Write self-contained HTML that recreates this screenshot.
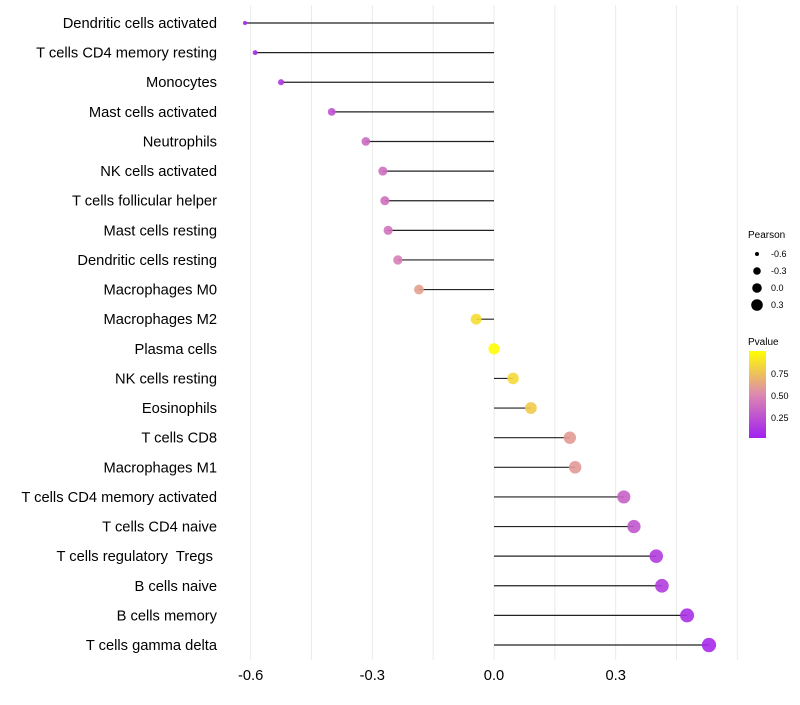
<!DOCTYPE html>
<html><head><meta charset="utf-8"><style>
body{margin:0;background:#fff;font-family:"Liberation Sans",sans-serif}
text{white-space:pre}
</style></head><body>
<svg id="chart" width="800" height="700" xmlns="http://www.w3.org/2000/svg">
<defs><linearGradient id="pg" x1="0" y1="1" x2="0" y2="0">
<stop offset="0" stop-color="#A020F0"/><stop offset="0.5" stop-color="#DD88B0"/><stop offset="1" stop-color="#FFFF00"/>
</linearGradient></defs>
<g id="grid"></g><g id="marks"></g><g id="labels"></g>
<g font-size="9" fill="#000">
<text x="748" y="238" font-size="10">Pearson</text>
<circle cx="757" cy="254" r="2"/><text x="771" y="257">-0.6</text>
<circle cx="757" cy="271" r="3.8"/><text x="771" y="274">-0.3</text>
<circle cx="757" cy="288" r="4.8"/><text x="771" y="291">0.0</text>
<circle cx="757" cy="305" r="5.8"/><text x="771" y="308">0.3</text>
<text x="748" y="345" font-size="10">Pvalue</text>
<rect x="749" y="351" width="17" height="87" fill="url(#pg)"/>
<text x="771" y="377">0.75</text><text x="771" y="399">0.50</text><text x="771" y="421">0.25</text>
</g>
</svg>
<script>
const categories=["Dendritic cells activated","T cells CD4 memory resting","Monocytes","Mast cells activated","Neutrophils","NK cells activated","T cells follicular helper","Mast cells resting","Dendritic cells resting","Macrophages M0","Macrophages M2","Plasma cells","NK cells resting","Eosinophils","T cells CD8","Macrophages M1","T cells CD4 memory activated","T cells CD4 naive","T cells regulatory  Tregs ","B cells naive","B cells memory","T cells gamma delta"];
const pearson=[-0.614,-0.589,-0.525,-0.40,-0.316,-0.274,-0.269,-0.261,-0.237,-0.185,-0.044,0.0,0.047,0.091,0.187,0.20,0.32,0.345,0.40,0.414,0.476,0.53];
const pvalue=[0.04,0.06,0.12,0.25,0.35,0.38,0.38,0.4,0.45,0.6,0.86,0.99,0.84,0.78,0.58,0.57,0.32,0.27,0.14,0.14,0.08,0.05];
const xticks=[-0.6,-0.3,0.0,0.3];
const xtickLabels=["-0.6","-0.3","0.0","0.3"];
const ns="http://www.w3.org/2000/svg";
const X=v=>494+v*405.6;
const Y=i=>23+i*29.62;
const R=v=>1.2+5.5*Math.sqrt(Math.max(0,v+0.64));
function lerp(a,b,t){return a.map((x,k)=>Math.round(x+(b[k]-x)*t));}
function col(p){const lo=[160,32,240],mid=[221,136,176],hi=[255,255,0];
 const c=p<0.5?lerp(lo,mid,p/0.5):lerp(mid,hi,(p-0.5)/0.5);return `rgb(${c})`;}
function mk(tag,attrs,parent){const e=document.createElementNS(ns,tag);for(const k in attrs)e.setAttribute(k,attrs[k]);document.getElementById(parent).appendChild(e);return e;}
for(let v=-0.6;v<=0.61;v+=0.15){const g=mk('line',{x1:X(v),x2:X(v),y1:5,y2:660,stroke:'#ebebeb','stroke-width':1},'grid');

}
xticks.forEach((t,i)=>{const e=mk('text',{x:X(t),y:680,'text-anchor':'middle','font-size':14.7,fill:'#000'},'labels');e.textContent=xtickLabels[i];

});
categories.forEach((c,i)=>{
 const t=mk('text',{x:217,y:Y(i)+5,'text-anchor':'end','font-size':14.7,fill:'#000'},'labels');t.textContent=c;
 
 
 const l=mk('line',{x1:X(0),x2:X(pearson[i]),y1:Y(i),y2:Y(i),stroke:'#222','stroke-width':1.2},'marks');
 
 
 const p=mk('circle',{cx:X(pearson[i]),cy:Y(i),r:R(pearson[i]),fill:col(pvalue[i]),'fill-opacity':0.9},'marks');
 
 
});
</script>
</body></html>
